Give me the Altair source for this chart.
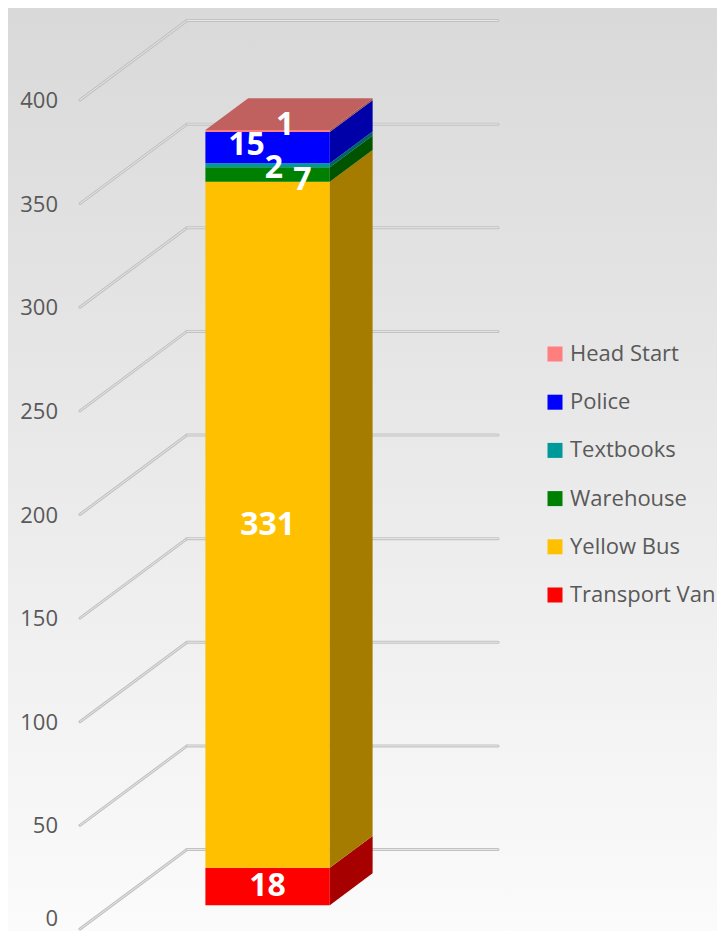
import altair as alt
import pandas as pd

# ---------------- data ----------------
categories = ["Transport Van", "Yellow Bus", "Warehouse", "Textbooks", "Police", "Head Start"]
counts = [18, 331, 7, 2, 15, 1]
front_colors = ["#FF0000", "#FFC000", "#008000", "#009999", "#0000FF", "#FF7F7F"]
side_colors = ["#A60000", "#A67C00", "#005400", "#006464", "#0000A8", "#A65353"]
top_color = "#C0605F"
legend_order = ["Head Start", "Police", "Textbooks", "Warehouse", "Yellow Bus", "Transport Van"]
tick_values = [0, 50, 100, 150, 200, 250, 300, 350, 400]
tick_labels = ["0", "50", "100", "150", "200", "250", "300", "350", "400"]
# data-label anchor: value position on the bar and horizontal fraction across the front face
label_value_pos = [9, 183.5, 349.8, 355.6, 366.7, 376.4]
label_x_frac = [0.5, 0.5, 0.78, 0.55, 0.33, 0.64]

# ---------------- projection constants (page pixels) ----------------
W, H = 709, 923
MARGIN = 8
FRONT_LEFT_PX = 80
SLOT_PX = 311
FLOOR_PX = 929
PX_PER_UNIT = 2.0725
DEPTH_DX_PX = 107
DEPTH_DY_PX = 79.5
AXIS_LABEL_GAP_PX = 22
K = DEPTH_DX_PX / SLOT_PX
DY = DEPTH_DY_PX / PX_PER_UNIT
x_dom = [(MARGIN - FRONT_LEFT_PX) / SLOT_PX, (MARGIN + W - FRONT_LEFT_PX) / SLOT_PX]
y_dom = [(FLOOR_PX - (MARGIN + H)) / PX_PER_UNIT, (FLOOR_PX - MARGIN) / PX_PER_UNIT]
BX0, BX1 = 0.3, 0.7
D0, D1 = 0.3, 0.7

xs = alt.Scale(domain=x_dom, nice=False, zero=False)
ys = alt.Scale(domain=y_dom, nice=False, zero=False)

# stacks
los, his = [], []
acc = 0
for c in counts:
    los.append(acc)
    acc += c
    his.append(acc)
total = acc

front = pd.DataFrame({
    "category": categories,
    "x0": BX0 + D0 * K, "x1": BX1 + D0 * K,
    "y0": [l + D0 * DY for l in los], "y1": [h + D0 * DY for h in his],
})

side_rows = []
for cat, l, h, col in zip(categories, los, his, side_colors):
    for d in (D0, D1):
        side_rows.append({"category": cat, "fill": col, "x": BX1 + d * K,
                          "y": l + d * DY, "y2": h + d * DY})
side = pd.DataFrame(side_rows)

top = pd.DataFrame([{"x": BX0 + d * K, "x2": BX1 + d * K, "y": total + d * DY} for d in (D0, D1)])

labels = pd.DataFrame({
    "text": [str(c) for c in counts],
    "x": [BX0 + f * (BX1 - BX0) + D0 * K for f in label_x_frac],
    "y": [v + D0 * DY for v in label_value_pos],
})

# tick labels: keep the lowest one inside the canvas
y_visible_min = y_dom[0] + 12 / PX_PER_UNIT
ticks = pd.DataFrame({
    "label": tick_labels,
    "x": -AXIS_LABEL_GAP_PX / SLOT_PX,
    "y": [max(v - 1 / PX_PER_UNIT, y_visible_min) for v in tick_values],
})

diag = pd.DataFrame({"x": 0.0, "x2": K, "y": tick_values, "y2": [v + DY for v in tick_values]})
horiz = pd.DataFrame({"x": K, "x2": 1 + K, "y": [v + DY for v in tick_values]})
bg = pd.DataFrame({"x": [x_dom[0]], "x2": [x_dom[1]], "y": [y_dom[0]], "y2": [y_dom[1]]})

FONT = "Open Sans"

background = alt.Chart(bg).mark_rect(
    color=alt.LinearGradient(gradient="linear",
                             stops=[alt.GradientStop(color="#fbfbfb", offset=0),
                                    alt.GradientStop(color="#d9d9d9", offset=1)],
                             x1=0, x2=0, y1=1, y2=0)
).encode(
    x=alt.X("x:Q", scale=xs, axis=None), x2="x2",
    y=alt.Y("y:Q", scale=ys, axis=None), y2="y2")

def rule_layer(df, stroke, width, sloped):
    enc = dict(x=alt.X("x:Q", scale=xs, axis=None), x2="x2",
               y=alt.Y("y:Q", scale=ys, axis=None))
    if sloped:
        enc["y2"] = "y2"
    return alt.Chart(df).mark_rule(stroke=stroke, strokeWidth=width, strokeCap="round").encode(**enc)

grid_outer_d = rule_layer(diag, "#c2c2c2", 3, True)
grid_inner_d = rule_layer(diag, "#e6e6e6", 1, True)
grid_outer_h = rule_layer(horiz, "#c2c2c2", 3, False)
grid_inner_h = rule_layer(horiz, "#e6e6e6", 1, False)

tick_layer = alt.Chart(ticks).mark_text(font=FONT, fontSize=22, color="#595959",
                                        align="right", baseline="middle").encode(
    x=alt.X("x:Q", scale=xs, axis=None),
    y=alt.Y("y:Q", scale=ys, axis=None),
    text="label:N",
)

front_layer = alt.Chart(front).mark_rect().encode(
    x=alt.X("x0:Q", scale=xs, axis=None), x2="x1",
    y=alt.Y("y0:Q", scale=ys, axis=None), y2="y1",
    color=alt.Color("category:N",
                    scale=alt.Scale(domain=legend_order,
                                    range=[front_colors[categories.index(c)] for c in legend_order]),
                    legend=alt.Legend(orient="none", legendX=536, legendY=335, title=None,
                                      symbolType="square", symbolSize=225, symbolStrokeWidth=0,
                                      labelFont=FONT, labelFontSize=22, labelColor="#595959",
                                      labelOffset=4, rowPadding=26.2, padding=0, labelLimit=300)),
)

side_layer = alt.Chart(side).mark_area(orient="vertical").encode(
    x=alt.X("x:Q", scale=xs, axis=None),
    y=alt.Y("y:Q", scale=ys, axis=None), y2="y2",
    color=alt.Color("fill:N", scale=None, legend=None),
    detail="category:N",
)

top_layer = alt.Chart(top).mark_area(orient="horizontal", color=top_color).encode(
    y=alt.Y("y:Q", scale=ys, axis=None),
    x=alt.X("x:Q", scale=xs, axis=None), x2="x2",
)

label_layer = alt.Chart(labels).mark_text(font=FONT, fontSize=32, fontWeight="bold", color="white",
                                          align="center", baseline="middle").encode(
    x=alt.X("x:Q", scale=xs, axis=None),
    y=alt.Y("y:Q", scale=ys, axis=None),
    text="text:N",
)

chart = alt.layer(
    background, grid_outer_d, grid_inner_d, grid_outer_h, grid_inner_h, tick_layer,
    front_layer, side_layer, top_layer, label_layer
).resolve_scale(color="independent").properties(
    width=W, height=H, padding=0, autosize=alt.AutoSizeParams(type="none")
).configure_view(
    strokeWidth=0,
)

chart.save("out.html", embed_options={"renderer": "svg", "actions": False})
